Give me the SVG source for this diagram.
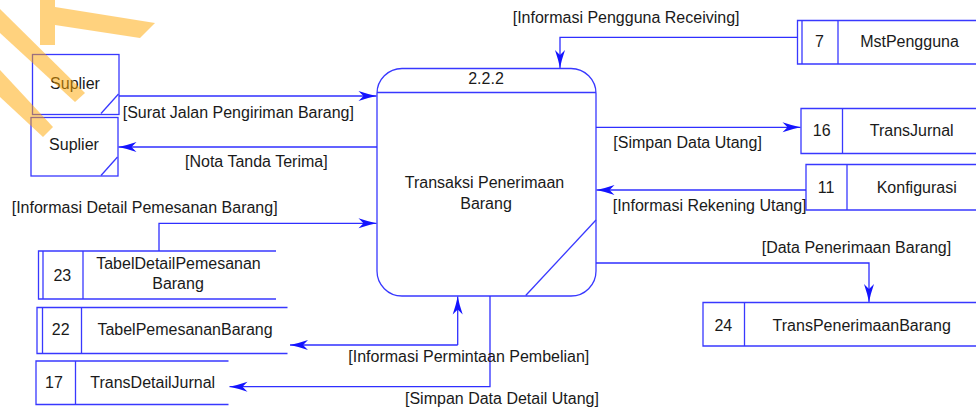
<svg xmlns="http://www.w3.org/2000/svg" width="976" height="408" viewBox="0 0 976 408">
  <style>
    .ln { fill: none; stroke: #3838ff; stroke-width: 1.3; }
    .box { fill: #ffffff; stroke: #3838ff; stroke-width: 1.3; }
    .flow { fill: none; stroke: #2f2fff; stroke-width: 1.3; marker-end: url(#arrow); }
    text { font-family: "Liberation Sans", Arial, sans-serif; font-size: 16px; fill: #1a1a1a; }
    .c { text-anchor: middle; }
  </style>
  <defs>
    <marker id="arrow" viewBox="-19 -6 20 12" refX="0" refY="0" markerWidth="20" markerHeight="12" markerUnits="userSpaceOnUse" orient="auto">
      <path d="M0,0 Q-8,-1.6 -18,-5 L-13,0 L-18,5 Q-8,1.6 0,0 Z" fill="#1414ff"/>
    </marker>
  </defs>

  <rect width="976" height="408" fill="#ffffff"/>

  <!-- external entities -->
  <g id="suplier-1">
    <rect class="box" x="32.5" y="54.5" width="86.5" height="60"/>
    <line class="ln" x1="101" y1="113.5" x2="118.5" y2="94"/>
    <text class="c" x="75" y="89.3">Suplier</text>
  </g>
  <g id="suplier-2">
    <rect class="box" x="31" y="117.5" width="87" height="58.5"/>
    <line class="ln" x1="101" y1="175.5" x2="117.5" y2="157"/>
    <text class="c" x="74" y="150">Suplier</text>
  </g>

  <!-- process -->
  <g id="process-2-2-2">
    <rect class="box" x="377" y="68.5" width="219" height="227.5" rx="25" ry="25"/>
    <line class="ln" x1="377" y1="92.5" x2="596" y2="92.5"/>
    <line class="ln" x1="525.7" y1="295.5" x2="596" y2="220"/>
    <text class="c" x="486" y="84.3">2.2.2</text>
    <text class="c" x="484.5" y="188.3">Transaksi Penerimaan</text>
    <text class="c" x="486" y="209">Barang</text>
  </g>

  <!-- data stores, right side -->
  <g id="store-7">
    <path class="box" d="M990,20.5 H797.5 V64 H990"/>
    <line class="ln" x1="802" y1="20.5" x2="802" y2="64"/>
    <line class="ln" x1="838" y1="20.5" x2="838" y2="64"/>
    <text class="c" x="819.5" y="47.3">7</text>
    <text class="c" x="909.5" y="47.3">MstPengguna</text>
  </g>
  <g id="store-16">
    <path class="box" d="M990,108.5 H801 V153.5 H990"/>
    <line class="ln" x1="842.5" y1="108.5" x2="842.5" y2="153.5"/>
    <text class="c" x="821.7" y="136">16</text>
    <text class="c" x="911.7" y="136">TransJurnal</text>
  </g>
  <g id="store-11">
    <path class="box" d="M990,164.5 H806 V210 H990"/>
    <line class="ln" x1="847" y1="164.5" x2="847" y2="210"/>
    <text class="c" x="826" y="193.3">11</text>
    <text class="c" x="916.7" y="193.3">Konfigurasi</text>
  </g>
  <g id="store-24">
    <path class="box" d="M990,302.5 H703 V346 H990"/>
    <line class="ln" x1="744.5" y1="302.5" x2="744.5" y2="346"/>
    <text class="c" x="723.3" y="330.7">24</text>
    <text class="c" x="861.7" y="330.7">TransPenerimaanBarang</text>
  </g>

  <!-- data stores, left side -->
  <g id="store-23">
    <path class="ln" d="M276,251 H38.5 V299 H276"/>
    <line class="ln" x1="43" y1="251" x2="43" y2="299"/>
    <line class="ln" x1="83" y1="251" x2="83" y2="299"/>
    <text class="c" x="62.3" y="280.7">23</text>
    <text class="c" x="178.5" y="269">TabelDetailPemesanan</text>
    <text class="c" x="178" y="289.3">Barang</text>
  </g>
  <g id="store-22">
    <path class="ln" d="M287.5,307.5 H37 V353.5 H287.5"/>
    <line class="ln" x1="42.5" y1="307.5" x2="42.5" y2="353.5"/>
    <line class="ln" x1="81.5" y1="307.5" x2="81.5" y2="353.5"/>
    <text class="c" x="60.7" y="335">22</text>
    <text class="c" x="185" y="335">TabelPemesananBarang</text>
  </g>
  <g id="store-17">
    <path class="ln" d="M228.5,361 H36 V404.5 H228.5"/>
    <line class="ln" x1="75.5" y1="361" x2="75.5" y2="404.5"/>
    <text class="c" x="54" y="388.3">17</text>
    <text class="c" x="152.7" y="388.3">TransDetailJurnal</text>
  </g>

  <!-- data flows -->
  <g id="flows">
    <path class="flow" d="M119,96 H376.5"/>
    <path class="flow" d="M377,147 H118.5"/>
    <path class="flow" d="M797.5,37.3 H560 V68"/>
    <path class="flow" d="M596,127.3 H800.5"/>
    <path class="flow" d="M806,190 H596.5"/>
    <path class="flow" d="M596,263 H869 V302"/>
    <path class="flow" d="M159,251 V223.3 H376.5"/>
    <path class="flow" d="M457.7,345 H290"/>
    <path class="flow" d="M457.7,345 V296.5"/>
    <path class="flow" d="M490,296 V386.7 H229.5"/>

    <text x="122.7" y="117.5">[Surat Jalan Pengiriman Barang]</text>
    <text x="185" y="166.7">[Nota Tanda Terima]</text>
    <text x="512.7" y="22.7">[Informasi Pengguna Receiving]</text>
    <text x="613.3" y="148">[Simpan Data Utang]</text>
    <text x="612.7" y="210.5">[Informasi Rekening Utang]</text>
    <text x="761.7" y="253">[Data Penerimaan Barang]</text>
    <text x="11.7" y="212.5">[Informasi Detail Pemesanan Barang]</text>
    <text x="348.3" y="361.5">[Informasi Permintaan Pembelian]</text>
    <text x="405" y="404">[Simpan Data Detail Utang]</text>
  </g>

  <!-- translucent yellow mark in the top-left corner -->
  <g id="mark" opacity="0.5" fill="#ffa700">
    <polygon points="0,9 85,93 75,102 0,33"/>
    <polygon points="40,0 55,0 55,45 40,45"/>
    <polygon points="55,7 155,23 140,38 55,25"/>
    <polygon points="0,70 53,127 43,137 0,97"/>
  </g>
</svg>
